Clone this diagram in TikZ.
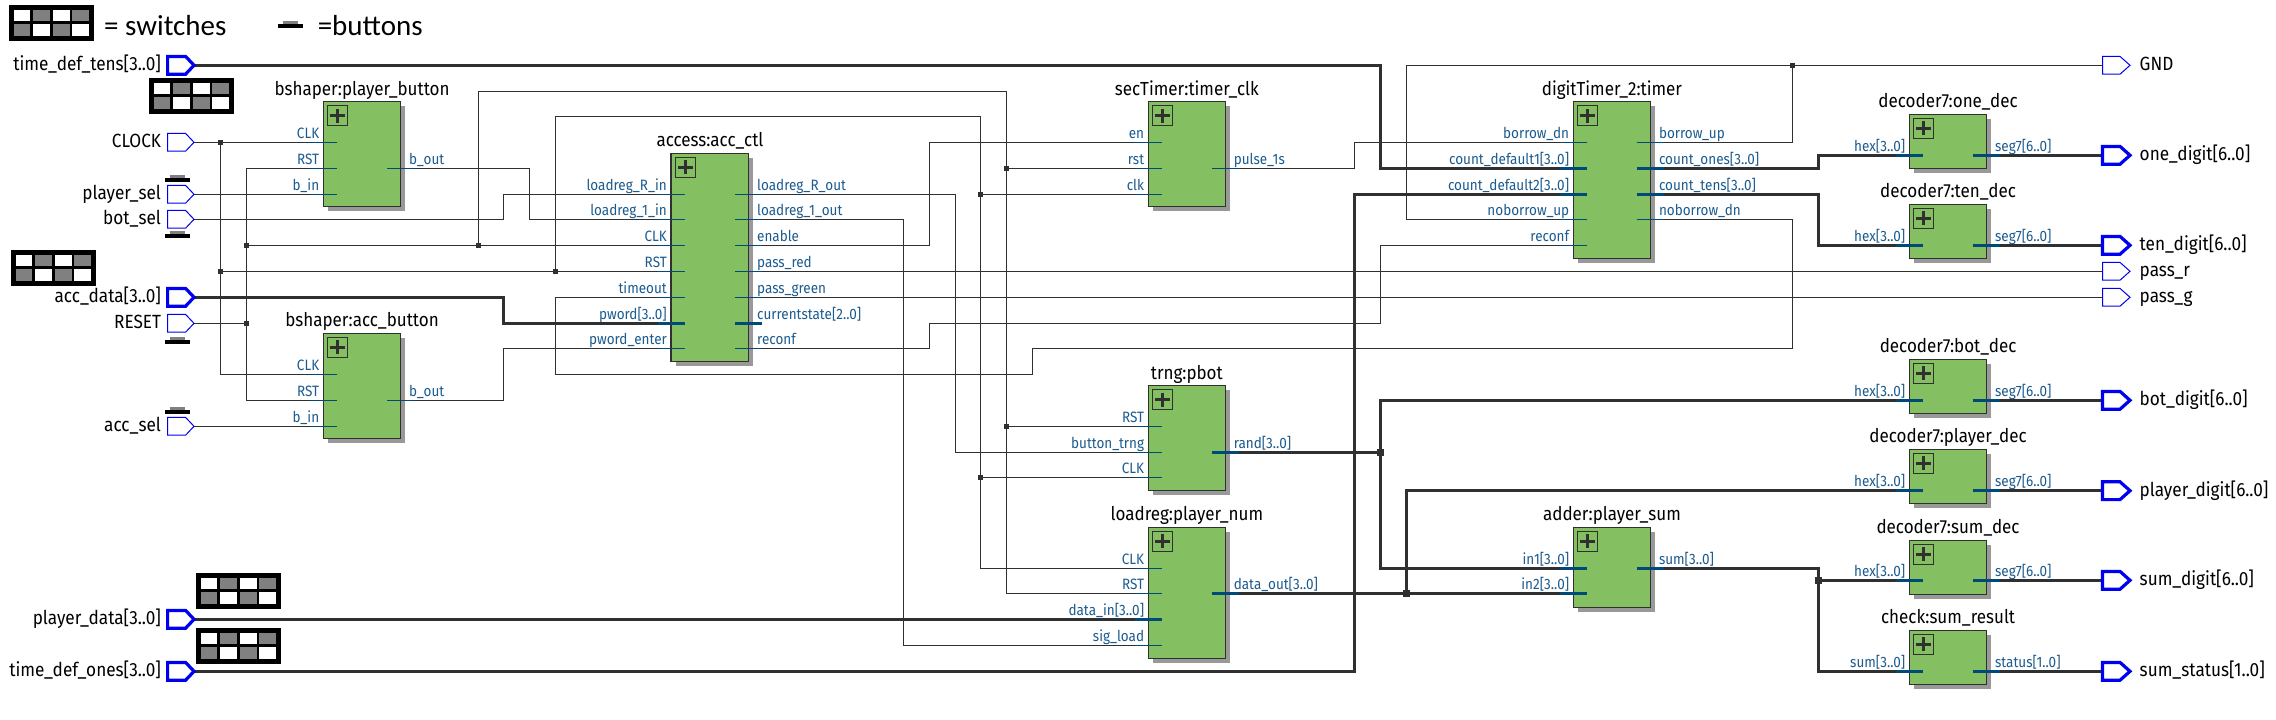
\documentclass[tikz,border=0pt]{standalone}
\usepackage{fontspec}
\setmainfont[FakeStretch=0.9]{Fira Sans}
\newfontfamily\legendfont{Carlito}
\usetikzlibrary{backgrounds}
\definecolor{blockgreen}{HTML}{84C062}
\definecolor{shadowgray}{HTML}{999999}
\definecolor{wirec}{HTML}{303030}
\definecolor{stubc}{HTML}{004A78}
\definecolor{pinc}{HTML}{1B5B8E}
\definecolor{portblue}{HTML}{0000F0}
\definecolor{cellgray}{HTML}{808080}
\newcommand{\pinfont}{\fontsize{15}{16}\selectfont}
\newcommand{\titlefont}{\fontsize{18.9}{20}\selectfont}
\newcommand{\portfont}{\fontsize{19.1}{20}\selectfont}
\tikzset{
  wire/.style={draw=wirec,line width=1.2pt},
  bus/.style={draw=wirec,line width=3.2pt},
  blockbox/.style={draw=wirec,fill=blockgreen,line width=1.2pt,inner sep=0pt,outer sep=0pt,anchor=north west},
  stubthin/.style={draw=stubc,line width=1.2pt},
  stubthick/.style={draw=stubc,line width=3.2pt},
  pinlabel/.style={text=pinc,font=\pinfont,inner sep=0pt},
  blocktitle/.style={text=black,font=\titlefont,inner sep=0pt,anchor=base},
  portlabel/.style={text=black,font=\portfont,inner sep=0pt},
  legendlabel/.style={text=black,font=\legendfont\fontsize{29}{30}\selectfont,inner sep=0pt,anchor=base west},
  jthin/.style={fill=wirec,inner sep=0pt,minimum width=4.6pt,minimum height=4.4pt},
  jthick/.style={fill=wirec,inner sep=0pt,minimum width=7pt,minimum height=6.4pt},
  portthin/.style={draw=portblue,line width=1pt,line join=miter},
  portthick/.style={draw=portblue,line width=3.2pt,line join=miter},
}
% block: [icon width] name x1 y1 x2 y2 title
\newcommand{\blk}[7][20]{%
  \fill[shadowgray] (#3+4.6,#4+4.4) rectangle (#5+4.6,#6+4.4);
  \node[blockbox,minimum width={(#5-#3)*1pt},minimum height={(#6-#4)*1pt}] (#2) at (#3,#4) {};
  \node[blocktitle] (#2title) at ({(#3+#5)/2},#4-6.6) {#7};
  \begin{scope}[shift={(#3,#4)}]
    \draw[draw=wirec,line width=1pt] (4.4,3.8) rectangle (4.4+#1,23.8);
    \draw[draw=wirec,line width=3pt] (4.4+#1/2-7.5,13.8) -- (4.4+#1/2+7.5,13.8);
    \draw[draw=wirec,line width=3pt] (4.4+#1/2,6.8) -- (4.4+#1/2,20.8);
  \end{scope}}
% left pin: id block y label stubstyle
\newcommand{\lpin}[5]{%
  \path (#2.west |- 0,#3) ++(-13.5,0) coordinate (#1) ++(27,0) coordinate (#1in);
  \draw[#5] (#1) -- (#1in);
  \path (#2.west |- 0,#3) ++(-4,-3.8) node[pinlabel,anchor=base east] (#1text) {#4};}
\newcommand{\rpin}[5]{%
  \path (#2.east |- 0,#3) ++(13.5,0) coordinate (#1) ++(-27,0) coordinate (#1in);
  \draw[#5] (#1) -- (#1in);
  \path (#2.east |- 0,#3) ++(8.2,-3.8) node[pinlabel,anchor=base west] (#1text) {#4};}
% input port: id y label style
\newcommand{\inport}[4]{%
  \draw[#4] (167.6,#2-8.9) -- (185.6,#2-8.9) -- (194,#2) -- (185.6,#2+8.9) -- (167.6,#2+8.9) -- cycle;
  \coordinate (#1) at (194,#2);
  \node[portlabel,anchor=base east] (#1text) at (161.2,#2+5.4) {#3};}
\newcommand{\outport}[4]{%
  \draw[#4] (2102.5,#2-8.9) -- (2120,#2-8.9) -- (2130,#2) -- (2120,#2+8.9) -- (2102.5,#2+8.9) -- cycle;
  \coordinate (#1) at (2102.5,#2);
  \node[portlabel,anchor=base west] (#1text) at (2139.5,#2+5.4) {#3};}
% switch icon
\newcommand{\swt}[2]{%
  \begin{scope}[shift={(#1,#2)}]
    \fill[black] (0,0) rectangle (85,36);
    \fill[white] (5,4.7) rectangle (21,16.3);
    \fill[cellgray] (24.4,4.7) rectangle (41.4,16.3);
    \fill[white] (44,4.7) rectangle (61,16.3);
    \fill[cellgray] (63.4,4.7) rectangle (80,16.3);
    \fill[cellgray] (5,18.7) rectangle (21,31.3);
    \fill[white] (24.4,18.7) rectangle (41.4,31.3);
    \fill[cellgray] (44,18.7) rectangle (61,31.3);
    \fill[white] (63.4,18.7) rectangle (80,31.3);
  \end{scope}}
% button icon: x of left, y of top of gray cap
\newcommand{\btn}[2]{%
  \fill[cellgray] (#1+5,#2) rectangle (#1+20,#2+3.2);
  \fill[black] (#1,#2+3) rectangle (#1+25,#2+7);}
% horizontal, vertical at x, horizontal
\newcommand{\zig}[4][wire]{\draw[#1] (#2) -- (#3,0 |- #2) -- (#3,0 |- #4) -- (#4);}
\begin{document}
\begin{tikzpicture}[x=1pt,y=-1pt]
\useasboundingbox (0,0) rectangle (2276,720);
\begin{scope}[on background layer]
  \fill[white] (0,0) rectangle (2276,720);
\end{scope}

% legend and marks
\swt{9}{5}
\node[legendlabel] (legendsw) at (104,35) {= switches};
\btn{278}{21}
\node[legendlabel] (legendbt) at (317.6,35.5) {=buttons};
\swt{149}{78}
\swt{11}{250}
\swt{196}{573}
\swt{196}{628}
\btn{165}{175}
\btn{165}{231}
\btn{165}{337}
\btn{165}{407}

% blocks
\blk{bp}{323.4}{101.7}{400.7}{206.7}{bshaper:player\_button}
\blk{ba}{323.4}{333.3}{400.7}{438.3}{bshaper:acc\_button}
\blk{ac}{671}{153.3}{748.8}{361.7}{access:acc\_ctl}
\blk{st}{1148.3}{101.7}{1225.4}{206.7}{secTimer:timer\_clk}
\blk{tr}{1148.3}{385.7}{1225.4}{490.7}{trng:pbot}
\blk{lr}{1148.3}{527.3}{1225.4}{658.7}{loadreg:player\_num}
\blk{dt}{1573.3}{101.7}{1650.6}{258.3}{digitTimer\_2:timer}
\blk{ad}{1573.3}{527.3}{1650.6}{607.7}{adder:player\_sum}
\blk{d1}{1909.4}{114.3}{1986.7}{168.3}{decoder7:one\_dec}
\blk{d2}{1909.4}{204.3}{1986.7}{258.3}{decoder7:ten\_dec}
\blk{d3}{1909.4}{359.3}{1986.7}{413.3}{decoder7:bot\_dec}
\blk{d4}{1909.4}{449.3}{1986.7}{503.3}{decoder7:player\_dec}
\blk{d5}{1909.4}{540.3}{1986.7}{594.3}{decoder7:sum\_dec}
\blk{d6}{1909.4}{630.3}{1986.7}{684.3}{check:sum\_result}

% pins
\lpin{bpclk}{bp}{142.3}{CLK}{stubthin}
\lpin{bprst}{bp}{168.3}{RST}{stubthin}
\lpin{bpin}{bp}{194.3}{b\_in}{stubthin}
\rpin{bpout}{bp}{168.3}{b\_out}{stubthin}
\lpin{baclk}{ba}{374.3}{CLK}{stubthin}
\lpin{barst}{ba}{400.3}{RST}{stubthin}
\lpin{bain}{ba}{426.3}{b\_in}{stubthin}
\rpin{baout}{ba}{400.3}{b\_out}{stubthin}

\lpin{acri}{ac}{194.3}{loadreg\_R\_in}{stubthin}
\lpin{acoi}{ac}{219.3}{loadreg\_1\_in}{stubthin}
\lpin{acclk}{ac}{245.3}{CLK}{stubthin}
\lpin{acrst}{ac}{271.3}{RST}{stubthin}
\lpin{acto}{ac}{297.3}{timeout}{stubthin}
\lpin{acpw}{ac}{323.3}{pword[3..0]}{stubthick}
\lpin{acpe}{ac}{348.3}{pword\_enter}{stubthin}
\rpin{acro}{ac}{194.3}{loadreg\_R\_out}{stubthin}
\rpin{acoo}{ac}{219.3}{loadreg\_1\_out}{stubthin}
\rpin{acen}{ac}{245.3}{enable}{stubthin}
\rpin{acpr}{ac}{271.3}{pass\_red}{stubthin}
\rpin{acpg}{ac}{297.3}{pass\_green}{stubthin}
\rpin{accs}{ac}{323.3}{currentstate[2..0]}{stubthick}
\rpin{acrc}{ac}{348.3}{reconf}{stubthin}

\lpin{sten}{st}{142.3}{en}{stubthin}
\lpin{strst}{st}{168.3}{rst}{stubthin}
\lpin{stclk}{st}{194.3}{clk}{stubthin}
\rpin{stp}{st}{168.3}{pulse\_1s}{stubthin}

\lpin{trrst}{tr}{426.3}{RST}{stubthin}
\lpin{trbt}{tr}{452.3}{button\_trng}{stubthin}
\lpin{trclk}{tr}{477.3}{CLK}{stubthin}
\rpin{trr}{tr}{452.3}{rand[3..0]}{stubthick}

\lpin{lrclk}{lr}{568.3}{CLK}{stubthin}
\lpin{lrrst}{lr}{593.3}{RST}{stubthin}
\lpin{lrd}{lr}{619.3}{data\_in[3..0]}{stubthick}
\lpin{lrs}{lr}{645.3}{sig\_load}{stubthin}
\rpin{lro}{lr}{593.3}{data\_out[3..0]}{stubthick}

\lpin{dtbd}{dt}{142.3}{borrow\_dn}{stubthin}
\lpin{dtc}{dt}{168.3}{count\_default1[3..0]}{stubthick}
\lpin{dtd}{dt}{194.3}{count\_default2[3..0]}{stubthick}
\lpin{dtnu}{dt}{219.3}{noborrow\_up}{stubthin}
\lpin{dtrc}{dt}{245.3}{reconf}{stubthin}
\rpin{dtbu}{dt}{142.3}{borrow\_up}{stubthin}
\rpin{dtco}{dt}{168.3}{count\_ones[3..0]}{stubthick}
\rpin{dtct}{dt}{194.3}{count\_tens[3..0]}{stubthick}
\rpin{dtnd}{dt}{219.3}{noborrow\_dn}{stubthin}

\lpin{adi}{ad}{568.3}{in1[3..0]}{stubthick}
\lpin{adj}{ad}{593.3}{in2[3..0]}{stubthick}
\rpin{ads}{ad}{568.3}{sum[3..0]}{stubthick}

\lpin{dai}{d1}{155.3}{hex[3..0]}{stubthick}
\rpin{dao}{d1}{155.3}{seg7[6..0]}{stubthick}
\lpin{dbi}{d2}{245.3}{hex[3..0]}{stubthick}
\rpin{dbo}{d2}{245.3}{seg7[6..0]}{stubthick}
\lpin{dci}{d3}{400.3}{hex[3..0]}{stubthick}
\rpin{dco}{d3}{400.3}{seg7[6..0]}{stubthick}
\lpin{ddi}{d4}{490.7}{hex[3..0]}{stubthick}
\rpin{ddo}{d4}{490.7}{seg7[6..0]}{stubthick}
\lpin{dei}{d5}{580.3}{hex[3..0]}{stubthick}
\rpin{deo}{d5}{580.3}{seg7[6..0]}{stubthick}
\lpin{dfi}{d6}{671.3}{sum[3..0]}{stubthick}
\rpin{dfo}{d6}{671.3}{status[1..0]}{stubthick}

% ports
\inport{ptens}{65.3}{time\_def\_tens[3..0]}{portthick}
\inport{pclock}{142.3}{CLOCK}{portthin}
\inport{psel}{194.3}{player\_sel}{portthin}
\inport{bsel}{219.3}{bot\_sel}{portthin}
\inport{adata}{297.3}{acc\_data[3..0]}{portthick}
\inport{reset}{323.3}{RESET}{portthin}
\inport{asel}{426.3}{acc\_sel}{portthin}
\inport{pdata}{619.3}{player\_data[3..0]}{portthick}
\inport{pones}{671.3}{time\_def\_ones[3..0]}{portthick}
\outport{gnd}{65.3}{GND}{portthin}
\outport{oned}{155.3}{one\_digit[6..0]}{portthick}
\outport{tend}{245.3}{ten\_digit[6..0]}{portthick}
\outport{passr}{271.3}{pass\_r}{portthin}
\outport{passg}{297.3}{pass\_g}{portthin}
\outport{botd}{400.3}{bot\_digit[6..0]}{portthick}
\outport{plyd}{490.7}{player\_digit[6..0]}{portthick}
\outport{sumd}{580.3}{sum\_digit[6..0]}{portthick}
\outport{sums}{671.3}{sum\_status[1..0]}{portthick}

% junctions
\node[jthin] (j1) at (220.4,142.3) {};
\node[jthin] (j2) at (246.5,245.3) {};
\node[jthin] (j3) at (246.5,323.3) {};
\node[jthin] (j4) at (220.4,271.3) {};
\node[jthin] (j5) at (478.4,245.3) {};
\node[jthin] (j6) at (555.3,271.3) {};
\node[jthin] (j7) at (1006.3,168.3) {};
\node[jthin] (j8) at (1006.3,426.3) {};
\node[jthin] (j9) at (980.3,194.3) {};
\node[jthin] (j10) at (980.3,477.3) {};
\node[jthin] (j11) at (1792.7,65.3) {};
\node[jthick] (j12) at (1380.4,452.3) {};
\node[jthick] (j13) at (1406.5,593.3) {};
\node[jthick] (j14) at (1818.6,580.3) {};

\begin{scope}[on background layer]
  % clock and reset nets
  \draw[wire] (pclock) -- (j1.center) -- (bpclk);
  \draw[wire] (j1.center) |- (baclk);
  \draw[wire] (bprst) -| (j3.center);
  \draw[wire] (j3.center) |- (barst);
  \draw[wire] (reset) -- (j3.center);
  \draw[wire] (j2.center) -- (j5.center) -- (acclk);
  \draw[wire] (j4.center) -- (j6.center) -- (acrst);
  \draw[wire] (j5.center) |- (1006.3,91.3) |- (lrrst);
  \draw[wire] (j7.center) -- (strst);
  \draw[wire] (j8.center) -- (trrst);
  \draw[wire] (j6.center) |- (980.3,116.3) |- (lrclk);
  \draw[wire] (j9.center) -- (stclk);
  \draw[wire] (j10.center) -- (trclk);
  % buttons
  \draw[wire] (psel) -- (bpin);
  \zig{bsel}{503.6}{acri}
  \zig{bpout}{529.7}{acoi}
  \draw[wire] (asel) -- (bain);
  \zig{baout}{503.6}{acpe}
  \zig[bus]{adata}{503.6}{acpw}
  % access outputs
  \zig{acro}{955.4}{trbt}
  \zig{acoo}{903.4}{lrs}
  \zig{acen}{929.4}{sten}
  \draw[wire] (acpr) -- (passr);
  \draw[wire] (acpg) -- (passg);
  \draw[wire] (acrc) -- (929.4,0 |- acrc) -- (929.4,323.3) -- (1380.4,323.3) -- (1380.4,0 |- dtrc) -- (dtrc);
  \draw[wire] (acto) -- (555.3,0 |- acto) -- (555.3,374.3) -- (1032.7,374.3) -- (1032.7,348.3) -- (1792.7,348.3) -- (1792.7,0 |- dtnd) -- (dtnd);
  % timer
  \zig{stp}{1354.4}{dtbd}
  \zig[bus]{ptens}{1380.4}{dtc}
  \zig[bus]{pones}{1354.4}{dtd}
  \draw[wire] (dtnu) -- (1406.5,0 |- dtnu) -- (1406.5,0 |- j11) -- (j11.center) -- (gnd);
  \draw[wire] (j11.center) |- (dtbu);
  \zig[bus]{dtco}{1818.6}{dai}
  \zig[bus]{dtct}{1818.6}{dbi}
  % data
  \draw[bus] (pdata) -- (lrd);
  \draw[bus] (trr) -- (j12.center);
  \draw[bus] (j12.center) |- (dci);
  \draw[bus] (j12.center) |- (adi);
  \draw[bus] (lro) -- (j13.center) -- (adj);
  \draw[bus] (j13.center) |- (ddi);
  \draw[bus] (ads) -| (j14.center);
  \draw[bus] (j14.center) -- (dei);
  \draw[bus] (j14.center) |- (dfi);
  % decoder outputs
  \draw[bus] (dao) -- (oned);
  \draw[bus] (dbo) -- (tend);
  \draw[bus] (dco) -- (botd);
  \draw[bus] (ddo) -- (plyd);
  \draw[bus] (deo) -- (sumd);
  \draw[bus] (dfo) -- (sums);
\end{scope}
\end{tikzpicture}
\end{document}
